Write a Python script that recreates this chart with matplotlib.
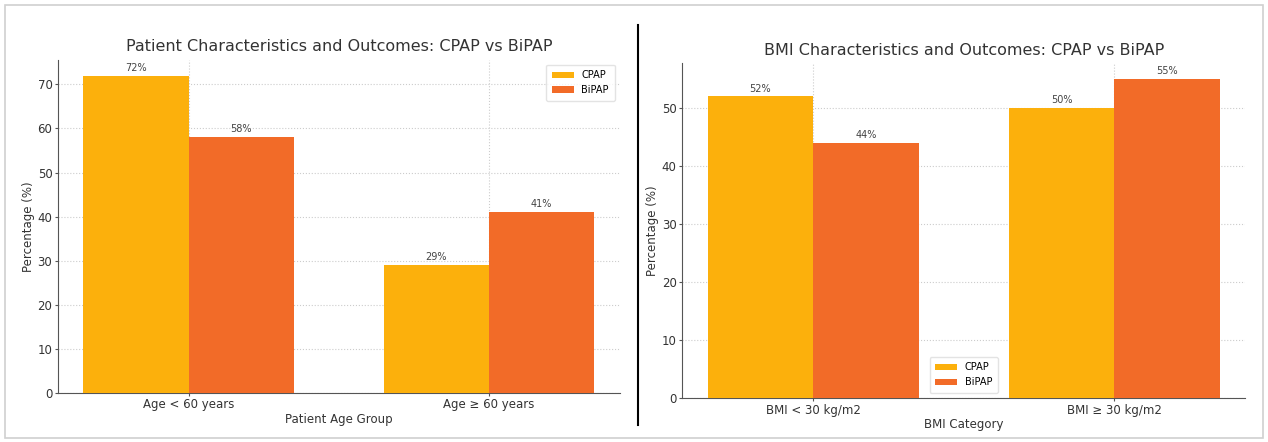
import matplotlib
matplotlib.use("Agg")
import matplotlib.pyplot as plt
from matplotlib.lines import Line2D
from matplotlib.patches import Rectangle
import numpy as np

# age groups
age_groups = ["Age < 60 years", "Age \u2265 60 years"]
age_cpap = [72, 29]
age_bipap = [58, 41]

# BMI categories
bmi_groups = ["BMI < 30 kg/m2", "BMI \u2265 30 kg/m2"]
bmi_cpap = [52, 50]
bmi_bipap = [44, 55]

CPAP_COLOR = "#fcb00c"
BIPAP_COLOR = "#f26b28"
TEXT = "#333333"


def grouped_bars(ax, groups, cpap, bipap, title, xlabel, legend_loc):
    x = np.arange(len(groups))
    w = 0.35
    b1 = ax.bar(x - w / 2, cpap, w, color=CPAP_COLOR, label="CPAP", zorder=3)
    b2 = ax.bar(x + w / 2, bipap, w, color=BIPAP_COLOR, label="BiPAP", zorder=3)
    for bars in (b1, b2):
        for r in bars:
            h = r.get_height()
            ax.annotate(f"{h:.0f}%", (r.get_x() + r.get_width() / 2, h),
                        xytext=(0, 2), textcoords="offset points",
                        ha="center", va="bottom", fontsize=7, color="#444444")
    ax.set_xticks(x)
    ax.set_xticklabels(groups, fontsize=8.5, color=TEXT)
    ax.tick_params(axis="both", length=2, pad=2, color="#555555")
    ax.tick_params(axis="y", labelsize=8.5, labelcolor=TEXT)
    ax.set_title(title, fontsize=11.5, color=TEXT, pad=6)
    ax.set_xlabel(xlabel, fontsize=8.5, color=TEXT, labelpad=1)
    ax.set_ylabel("Percentage (%)", fontsize=8.5, color=TEXT, labelpad=2)
    ax.grid(True, linestyle=":", color="#cccccc", linewidth=0.8, zorder=0)
    for s in ("top", "right"):
        ax.spines[s].set_visible(False)
    for s in ("left", "bottom"):
        ax.spines[s].set_color("#555555")
    ax.legend(loc=legend_loc, fontsize=7, frameon=True, edgecolor="#dddddd",
              handlelength=2.2, borderpad=0.6)


fig = plt.figure(figsize=(12.68, 4.42), dpi=100)

ax1 = fig.add_axes([0.0457, 0.111, 0.443, 0.754])
grouped_bars(ax1, age_groups, age_cpap, age_bipap,
             "Patient Characteristics and Outcomes: CPAP vs BiPAP",
             "Patient Age Group", "upper right")

ax2 = fig.add_axes([0.538, 0.0995, 0.444, 0.758])
grouped_bars(ax2, bmi_groups, bmi_cpap, bmi_bipap,
             "BMI Characteristics and Outcomes: CPAP vs BiPAP",
             "BMI Category", "lower center")

# divider between the two panels and the outer frame
fig.add_artist(Line2D([638 / 1268, 638 / 1268], [17 / 442, 417 / 442],
                      color="black", linewidth=1.5))
fig.add_artist(Rectangle((5 / 1268, 4 / 442), 1258 / 1268, 433 / 442,
                         fill=False, edgecolor="#d0d0d0", linewidth=1.2))

fig.savefig("out.png", dpi=100)
